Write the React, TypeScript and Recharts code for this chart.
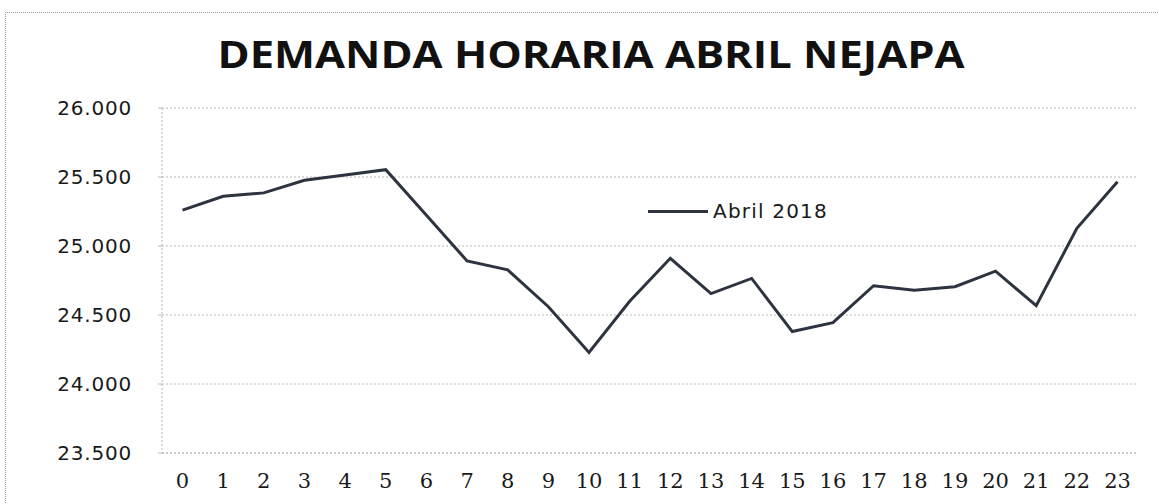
import React from 'react';
import { LineChart, Line, XAxis, YAxis, CartesianGrid, Legend } from 'recharts';

const title = 'DEMANDA HORARIA ABRIL NEJAPA';
const seriesName = 'Abril 2018';
const hours = ['0','1','2','3','4','5','6','7','8','9','10','11','12','13','14','15','16','17','18','19','20','21','22','23'];
const demand = [25260, 25360, 25385, 25476, 25515, 25553, 25222, 24892, 24827, 24560, 24228, 24600, 24911, 24655, 24765, 24380, 24445, 24712, 24680, 24705, 24818, 24568, 25128, 25466];
const yTicks = [23500, 24000, 24500, 25000, 25500, 26000];

const data = hours.map((h, i) => ({ hour: h, value: demand[i] }));

const fmt = (v: number) => {
  const s = String(Math.round(v));
  return s.replace(/\B(?=(\d{3})+(?!\d))/g, '.');
};

const LINE_COLOR = '#2d3440';
const GRID_COLOR = '#b8b8b8';

const renderLegend = (props: any) => {
  const p = (props.payload && props.payload[0]) || { value: seriesName, color: LINE_COLOR };
  return (
    <div style={{ display: 'flex', alignItems: 'center', whiteSpace: 'nowrap', width: 260, height: 30 }}>
      <span style={{ display: 'inline-block', width: 60, height: 3, background: p.color || LINE_COLOR, marginLeft: 3, marginRight: 5 }} />
      <span style={{ fontFamily: 'DejaVu Sans', fontSize: 20, color: '#1a1a1a', letterSpacing: 1.2, lineHeight: '30px' }}>
        {p.value}
      </span>
    </div>
  );
};

export default function App() {
  return (
    <div style={{ position: 'absolute', left: 0, top: 0, width: 1159, height: 504, background: '#fff', overflow: 'hidden' }}>
      <div style={{ position: 'absolute', left: 5, top: 12, width: 1170, height: 520, borderTop: '1px dotted #9a9a9a', borderLeft: '1px dotted #9a9a9a' }} />
      <svg width={1159} height={90} style={{ position: 'absolute', left: 0, top: 0 }}>
        <text x={591} y={68} textAnchor="middle" fontFamily="Open Sans" fontWeight={700} fontSize={37} fill="#111" textLength={747} lengthAdjust="spacingAndGlyphs">
          {title}
        </text>
      </svg>
      <div style={{ position: 'absolute', left: 0, top: 0 }}>
        <LineChart width={1159} height={504} data={data} margin={{ top: 108, right: 21, bottom: 0, left: 0 }}>
          <CartesianGrid vertical={false} stroke={GRID_COLOR} strokeDasharray="2 2" />
          <XAxis
            dataKey="hour"
            height={51}
            padding={{ left: 20.5, right: 20.5 }}
            axisLine={{ stroke: GRID_COLOR, strokeDasharray: '2 2' }}
            tickLine={false}
            tickSize={4}
            tickMargin={16}
            tick={{ fontFamily: 'DejaVu Serif', fontSize: 21, fill: '#1a1a1a' }}
            interval={0}
          />
          <YAxis
            width={162}
            domain={[23500, 26000]}
            ticks={yTicks}
            tickFormatter={fmt}
            axisLine={{ stroke: GRID_COLOR, strokeDasharray: '2 2' }}
            tickLine={{ stroke: GRID_COLOR }}
            tickSize={4}
            tickMargin={26}
            tick={{ fontFamily: 'DejaVu Sans', fontSize: 20, fill: '#1a1a1a', letterSpacing: 0.8 }}
            interval={0}
          />
          <Legend
            layout="horizontal"
            verticalAlign="middle"
            align="center"
            content={renderLegend}
            wrapperStyle={{ position: 'absolute', left: 645, top: 196, width: 260, height: 30 }}
          />
          <Line
            type="linear"
            dataKey="value"
            name={seriesName}
            stroke={LINE_COLOR}
            strokeWidth={3}
            dot={false}
            activeDot={false}
            isAnimationActive={false}
          />
        </LineChart>
      </div>
    </div>
  );
}
